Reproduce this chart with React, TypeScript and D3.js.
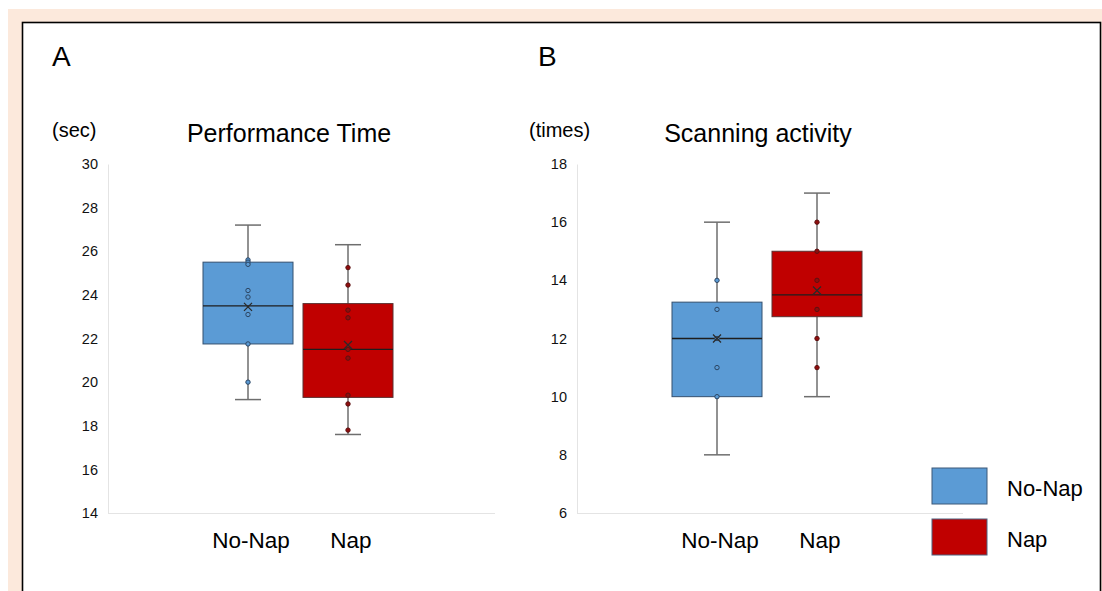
import { useEffect, useRef } from 'react';
import * as d3 from 'd3';

const W = 1102;
const H = 591;
const FONT = '"Liberation Sans", Arial, Helvetica, sans-serif';

const groups = ['No-Nap', 'Nap'];
const fills = ['#5b9bd5', '#c00000'];
const outlines = ['#34506f', '#5a3030'];
const pointFills = ['#5b9bd5', '#8f0d0d'];
const pointStrokes = ['#2c4664', '#5c1010'];

// Panel A: performance time (sec)
const perfTicks = [14, 16, 18, 20, 22, 24, 26, 28, 30];
const perfMin = [19.2, 17.6];
const perfQ1 = [21.75, 19.3];
const perfMedian = [23.5, 21.5];
const perfQ3 = [25.5, 23.6];
const perfMax = [27.2, 26.3];
const perfMean = [23.45, 21.7];
const perfNoNapPts = [25.6, 25.5, 25.4, 24.2, 23.9, 23.1, 21.75, 20.0];
const perfNapPts = [25.25, 24.45, 23.3, 22.95, 21.5, 21.1, 19.4, 19.0, 17.8];

// Panel B: scanning activity (times)
const scanTicks = [6, 8, 10, 12, 14, 16, 18];
const scanMin = [8, 10];
const scanQ1 = [10, 12.75];
const scanMedian = [12, 13.5];
const scanQ3 = [13.25, 15];
const scanMax = [16, 17];
const scanMean = [12, 13.65];
const scanNoNapPts = [14, 13, 12, 11, 10];
const scanNapPts = [16, 15, 14, 13, 12, 11];

type Panel = {
  letter: string;
  letterX: number;
  unit: string;
  unitX: number;
  title: string;
  titleX: number;
  ticks: number[];
  min: number[];
  q1: number[];
  median: number[];
  q3: number[];
  max: number[];
  mean: number[];
  points: number[][];
  x0: number;
  x1: number;
};

const panels: Panel[] = [
  {
    letter: 'A', letterX: 52, unit: '(sec)', unitX: 52, title: 'Performance Time', titleX: 289,
    ticks: perfTicks, min: perfMin, q1: perfQ1, median: perfMedian, q3: perfQ3, max: perfMax,
    mean: perfMean, points: [perfNoNapPts, perfNapPts], x0: 108, x1: 495,
  },
  {
    letter: 'B', letterX: 538, unit: '(times)', unitX: 529, title: 'Scanning activity', titleX: 758,
    ticks: scanTicks, min: scanMin, q1: scanQ1, median: scanMedian, q3: scanQ3, max: scanMax,
    mean: scanMean, points: [scanNoNapPts, scanNapPts], x0: 577, x1: 963,
  },
];

const TOP = 164;
const BOTTOM = 513;

export default function App() {
  const ref = useRef<SVGSVGElement>(null);

  useEffect(() => {
    if (!ref.current) return;
    const svg = d3.select(ref.current);
    svg.selectAll('*').remove();

    svg.append('rect').attr('x', 8).attr('y', 9).attr('width', W - 8).attr('height', H - 9).attr('fill', '#fce9dc');
    svg.append('rect').attr('x', 22.5).attr('y', 22.5).attr('width', 1078).attr('height', 600)
      .attr('fill', '#fff').attr('stroke', '#000').attr('stroke-width', 1.6);

    panels.forEach((p) => {
      const g = svg.append('g');
      const y = d3.scaleLinear().domain([p.ticks[0], p.ticks[p.ticks.length - 1]]).range([BOTTOM, TOP]);
      const x = d3.scaleBand().domain(groups).range([p.x0 + 95, p.x0 + 285]).paddingInner(0.1).paddingOuter(0);

      g.append('text').attr('x', p.letterX).attr('y', 66).attr('font-size', 28).attr('font-family', FONT).text(p.letter);
      g.append('text').attr('x', p.unitX).attr('y', 137).attr('font-size', 20).attr('font-family', FONT).text(p.unit);
      g.append('text').attr('x', p.titleX).attr('y', 142).attr('text-anchor', 'middle')
        .attr('font-size', 25).attr('font-family', FONT).text(p.title);

      // axes
      g.append('g')
        .attr('transform', `translate(${p.x0},0)`)
        .call(d3.axisLeft(y).tickValues(p.ticks).tickSize(0).tickPadding(10))
        .call((a) => a.select('.domain').attr('stroke', '#e4e4e4'))
        .call((a) => a.selectAll('text').attr('fill', '#111').attr('font-size', 14.5).attr('font-family', FONT));
      g.append('line').attr('x1', p.x0).attr('x2', p.x1).attr('y1', BOTTOM + 0.5).attr('y2', BOTTOM + 0.5)
        .attr('stroke', '#e4e4e4');

      groups.forEach((name, i) => {
        const bx = x(name) as number;
        const bw = x.bandwidth();
        const cx = bx + bw / 2;

        // whisker line + caps
        g.append('line').attr('x1', cx).attr('x2', cx).attr('y1', y(p.max[i])).attr('y2', y(p.min[i]))
          .attr('stroke', '#6e6e6e').attr('stroke-width', 1.5);
        [p.max[i], p.min[i]].forEach((v) => {
          g.append('line').attr('x1', cx - 13).attr('x2', cx + 13).attr('y1', y(v)).attr('y2', y(v))
            .attr('stroke', '#6e6e6e').attr('stroke-width', 1.5);
        });

        // box
        g.append('rect').attr('x', bx).attr('y', y(p.q3[i])).attr('width', bw)
          .attr('height', y(p.q1[i]) - y(p.q3[i]))
          .attr('fill', fills[i]).attr('stroke', outlines[i]).attr('stroke-width', 1);

        // median
        g.append('line').attr('x1', bx).attr('x2', bx + bw).attr('y1', y(p.median[i])).attr('y2', y(p.median[i]))
          .attr('stroke', '#1e1e1e').attr('stroke-width', 1.3);

        // points
        g.selectAll(null).data(p.points[i]).join('circle')
          .attr('cx', cx).attr('cy', (d) => y(d)).attr('r', 2.2)
          .attr('fill', pointFills[i]).attr('stroke', pointStrokes[i]).attr('stroke-width', 1);

        // mean marker
        const my = y(p.mean[i]);
        const s = 4;
        g.append('path').attr('d', `M${cx - s},${my - s}L${cx + s},${my + s}M${cx - s},${my + s}L${cx + s},${my - s}`)
          .attr('stroke', '#2a2a2a').attr('stroke-width', 1.3).attr('fill', 'none');

        // category label
        g.append('text').attr('x', cx + 3).attr('y', 548).attr('text-anchor', 'middle')
          .attr('font-size', 22.5).attr('font-family', FONT).text(name);
      });
    });

    // legend
    const leg = svg.append('g');
    groups.forEach((name, i) => {
      const ly = 468 + i * 51;
      leg.append('rect').attr('x', 932).attr('y', ly).attr('width', 55).attr('height', 36)
        .attr('fill', fills[i]).attr('stroke', i === 0 ? '#3d5878' : '#4d6380').attr('stroke-width', 1);
      leg.append('text').attr('x', 1007).attr('y', ly + 28).attr('font-size', 22).attr('font-family', FONT).text(name);
    });
  }, []);

  return (
    <svg
      ref={ref}
      width={W}
      height={H}
      style={{ position: 'absolute', left: 0, top: 0, display: 'block' }}
    />
  );
}
